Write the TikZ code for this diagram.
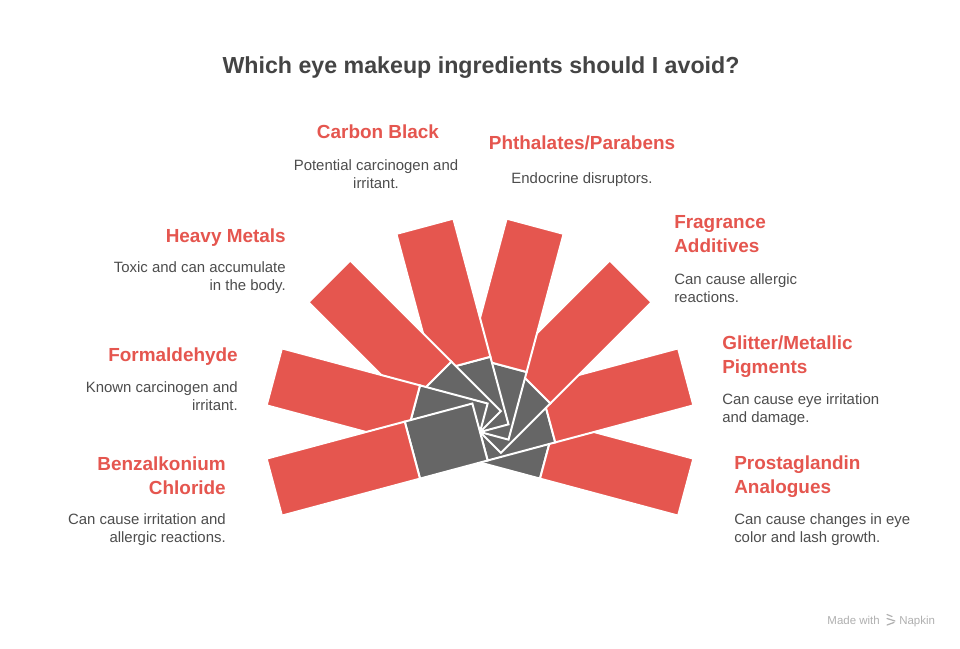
\documentclass[tikz,border=0pt]{standalone}
\usepackage{fontspec}
\setmainfont{Liberation Sans}
\definecolor{barred}{HTML}{E5564F}
\definecolor{bargray}{HTML}{666666}
\definecolor{titlegray}{HTML}{444444}
\definecolor{descgray}{HTML}{4D4D4D}
\definecolor{napkingray}{HTML}{B0B0B0}
\begin{document}
\begin{tikzpicture}[x=0.75pt,y=-0.75pt,
  grayseg/.style={fill=bargray,draw=white,line width=1.5pt,line join=miter},
  redseg/.style={fill=barred,draw=white,line width=1.5pt,line join=miter},
  titletext/.style={font=\fontsize{17.4}{21}\selectfont\bfseries,text=titlegray,inner sep=0pt},
  labeltext/.style={font=\fontsize{14.2}{18}\selectfont\bfseries,text=barred,inner sep=0pt},
  desctext/.style={font=\fontsize{11.2}{13.5}\selectfont,text=descgray,inner sep=0pt},
  marktext/.style={font=\fontsize{8.6}{10}\selectfont,text=napkingray,inner sep=0pt}]
\fill[white] (0,0) rectangle (960,649);
\useasboundingbox (0,0) rectangle (960,649);
\coordinate (C) at (480,432);
% bars, drawn from the right-most to the left-most so that each covers the previous
\foreach \a in {-15,15,45,75,105,135,165,195}{
  \begin{scope}[shift={(C)},rotate=\a]
    \draw[grayseg] (0,-29.5) rectangle (70,29.5);
    \draw[redseg] (70,-29.5) rectangle (213,29.5);
  \end{scope}
}
% title
\node[titletext,anchor=base] (title) at (481,74) {Which eye makeup ingredients should I avoid?};
% top
\node[labeltext,anchor=base] (l4) at (378,139) {Carbon Black};
\node[desctext,anchor=north,align=center] (d4) at (376,159.2) {Potential carcinogen and\\irritant.};
\node[labeltext,anchor=base] (l5) at (582,150) {Phthalates/Parabens};
\node[desctext,anchor=base] (d5) at (582,184) {Endocrine disruptors.};
% left
\node[labeltext,anchor=base east] (l3) at (286,242) {Heavy Metals};
\node[desctext,anchor=north east,align=right] (d3) at (286,261.2) {Toxic and can accumulate\\in the body.};
\node[labeltext,anchor=base east] (l2) at (238,361) {Formaldehyde};
\node[desctext,anchor=north east,align=right] (d2) at (238,381.2) {Known carcinogen and\\irritant.};
\node[labeltext,anchor=north east,align=right] (l1) at (226,456.3) {Benzalkonium\\Chloride};
\node[desctext,anchor=north east,align=right] (d1) at (226,513.2) {Can cause irritation and\\allergic reactions.};
% right
\node[labeltext,anchor=north west,align=left] (l6) at (674,215.3) {Fragrance\\Additives};
\node[desctext,anchor=north west,align=left] (d6) at (674,273.2) {Can cause allergic\\reactions.};
\node[labeltext,anchor=north west,align=left] (l7) at (722,335.3) {Glitter/Metallic\\Pigments};
\node[desctext,anchor=north west,align=left] (d7) at (722,393.2) {Can cause eye irritation\\and damage.};
\node[labeltext,anchor=north west,align=left] (l8) at (734,455.3) {Prostaglandin\\Analogues};
\node[desctext,anchor=north west,align=left] (d8) at (734,513.2) {Can cause changes in eye\\color and lash growth.};
% watermark
\node[marktext,anchor=base east] (made) at (880,624) {Made with};
\draw[napkingray,line width=0.9pt,line cap=round] (887,614.5) -- (892,616.5) (887,618.5) -- (895,621) (887,625) -- (894,622.5);
\node[marktext,anchor=base west] (napkin) at (899,624) {Napkin};
\end{tikzpicture}
\end{document}
